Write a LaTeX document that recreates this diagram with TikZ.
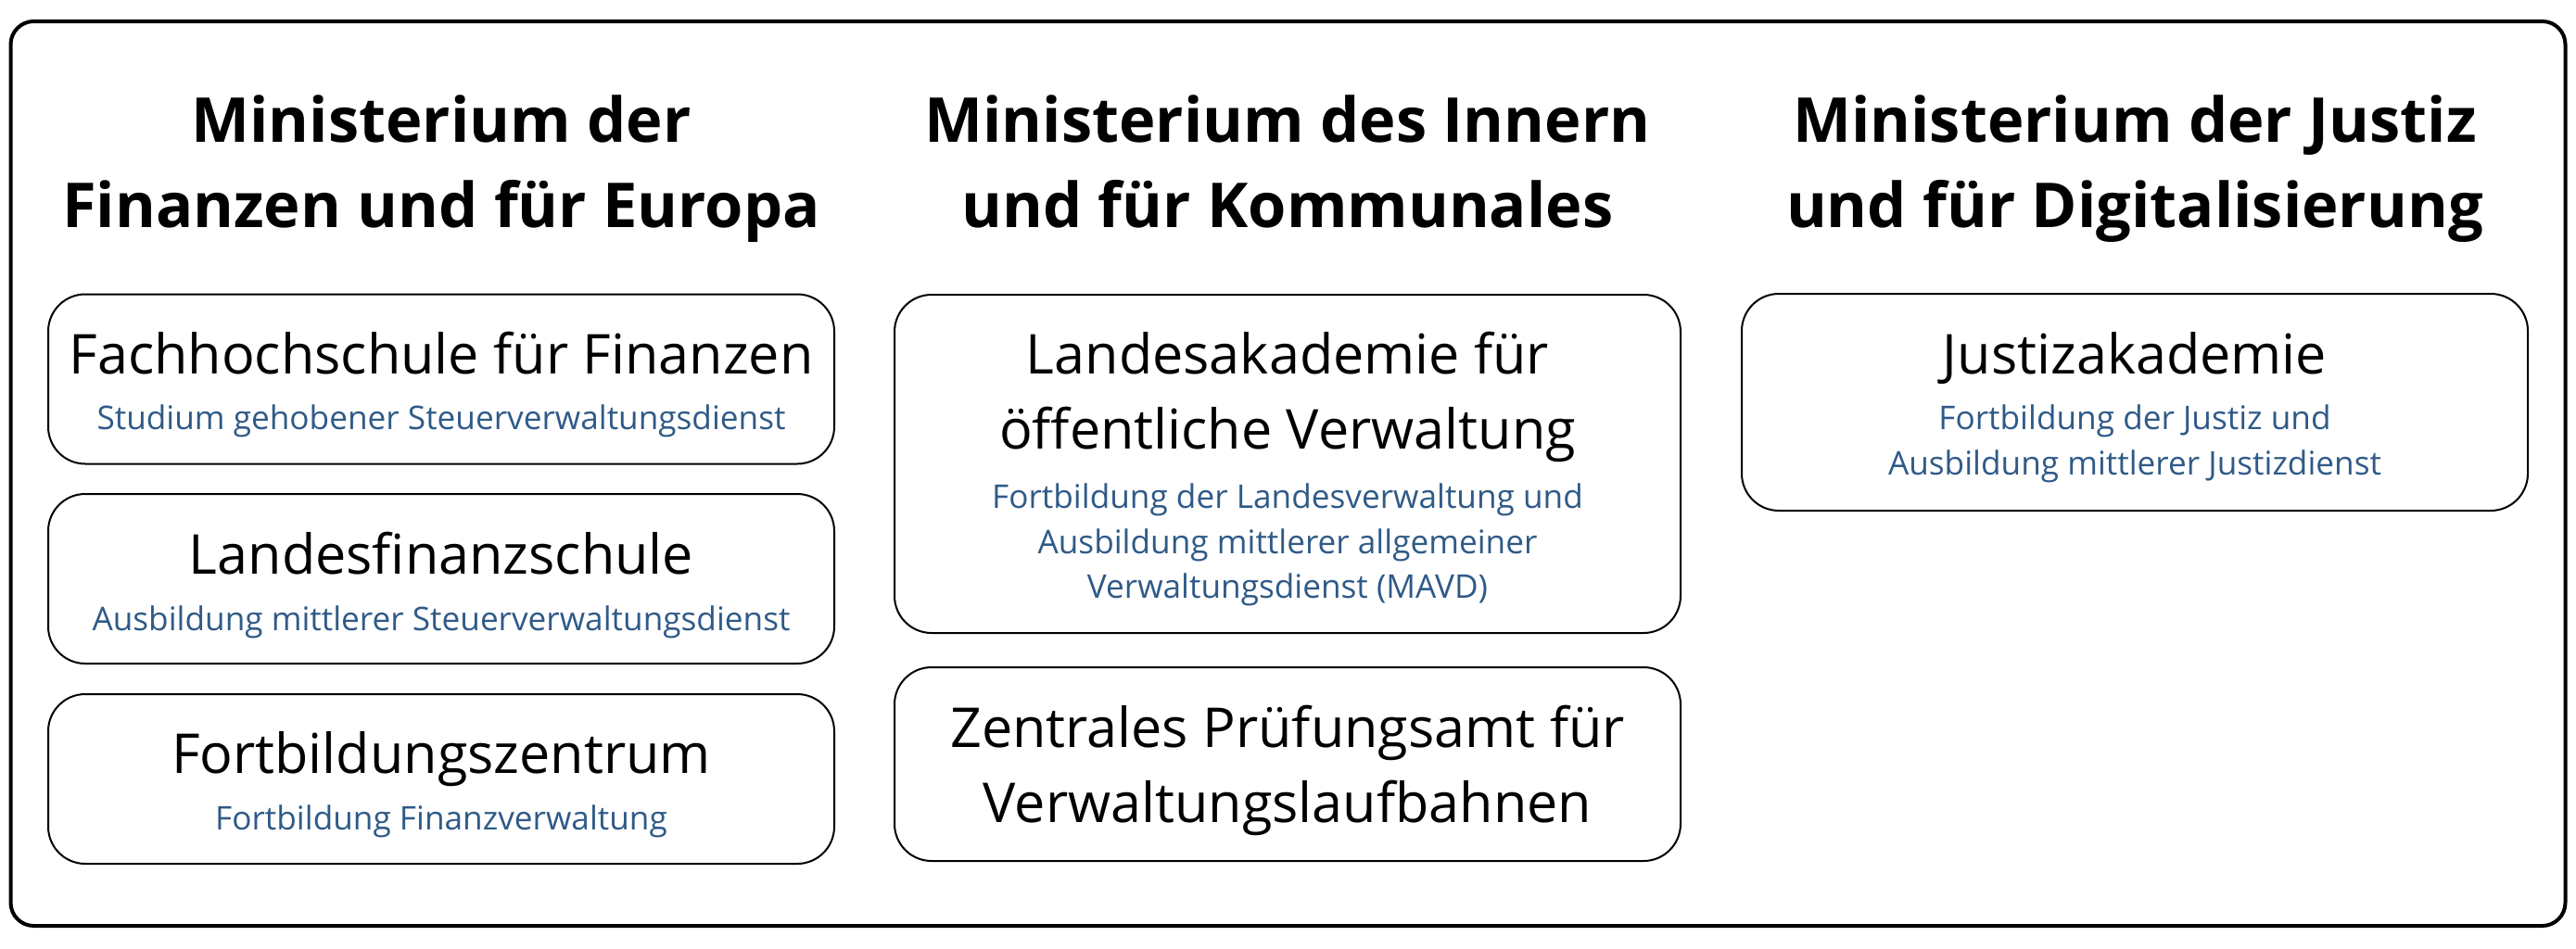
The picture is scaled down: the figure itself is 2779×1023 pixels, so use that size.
\documentclass[tikz,border=0pt]{standalone}
\usepackage{fontspec}
\setmainfont{Open Sans}
\definecolor{subblue}{HTML}{2F5A87}
\begin{document}
\begin{tikzpicture}[x=1pt,y=-1pt,
  frame/.style={draw, line width=4pt, rounded corners=25pt, inner sep=0pt, outer sep=0pt},
  unitbox/.style={draw, line width=2pt, rounded corners=40pt, minimum width=848pt, inner sep=0pt, outer sep=0pt},
  ttl/.style={font=\bfseries\fontsize{66.8}{92}\selectfont, anchor=base, inner sep=0pt},
  mainline/.style={font=\fontsize{59.3}{81}\selectfont, anchor=base, inner sep=0pt},
  subline/.style={font=\fontsize{35.2}{49}\selectfont, text=subblue, anchor=base, inner sep=0pt}]
\useasboundingbox (0,0) rectangle (2779,1023);
\node[frame, minimum width=2756pt, minimum height=976pt] (frame) at (1389.5,511) {};
% titles
\node[ttl] (t1a) at (476,153) {Ministerium der};
\node[ttl] (t1b) at (476,245) {Finanzen und für Europa};
\node[ttl] (t2a) at (1389,153) {Ministerium des Innern};
\node[ttl] (t2b) at (1389,245) {und für Kommunales};
\node[ttl] (t3a) at (2303,153) {Ministerium der Justiz};
\node[ttl] (t3b) at (2303,245) {und für Digitalisierung};
% column 1
\node[unitbox, minimum height=183pt] (b1) at (476,409) {};
\node[mainline] (b1m) at (476,403) {Fachhochschule für Finanzen};
\node[subline] (b1s) at (476,463) {Studium gehobener Steuerverwaltungsdienst};
\node[unitbox, minimum height=183pt] (b2) at (476,624.5) {};
\node[mainline] (b2m) at (476,619) {Landesfinanzschule};
\node[subline] (b2s) at (476,680) {Ausbildung mittlerer Steuerverwaltungsdienst};
\node[unitbox, minimum height=183pt] (b3) at (476,840.5) {};
\node[mainline] (b3m) at (476,834) {Fortbildungszentrum};
\node[subline] (b3s) at (476,895) {Fortbildung Finanzverwaltung};
% column 2
\node[unitbox, minimum height=365pt] (ba) at (1389,500.5) {};
\node[mainline] (bam1) at (1389,403) {Landesakademie für};
\node[mainline] (bam2) at (1389,484) {öffentliche Verwaltung};
\node[subline] (bas1) at (1389,548) {Fortbildung der Landesverwaltung und};
\node[subline] (bas2) at (1389,597) {Ausbildung mittlerer allgemeiner};
\node[subline] (bas3) at (1389,645) {Verwaltungsdienst (MAVD)};
\node[unitbox, minimum height=209pt] (bb) at (1389,824.5) {};
\node[mainline] (bbm1) at (1389,806) {Zentrales Prüfungsamt für};
\node[mainline] (bbm2) at (1389,887) {Verwaltungslaufbahnen};
% column 3
\node[unitbox, minimum height=234pt] (bc) at (2303,434) {};
\node[mainline] (bcm) at (2303,403) {Justizakademie};
\node[subline] (bcs1) at (2303,463) {Fortbildung der Justiz und};
\node[subline] (bcs2) at (2303,512) {Ausbildung mittlerer Justizdienst};
\end{tikzpicture}
\end{document}
